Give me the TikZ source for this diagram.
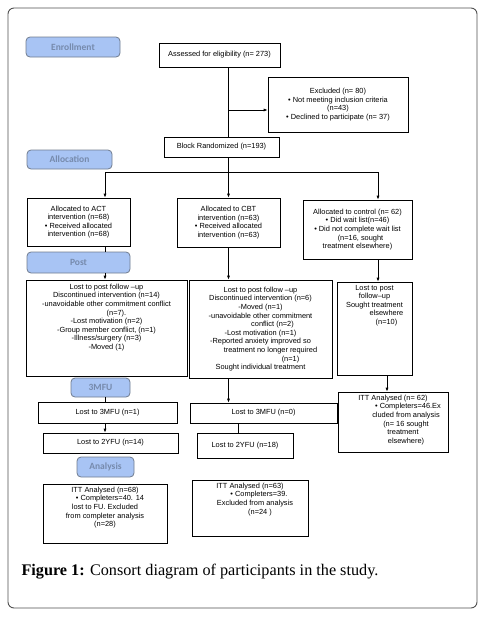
\documentclass[tikz,border=0pt]{standalone}
\usepackage{fontspec}
\setmainfont{Liberation Serif}
\newfontfamily\boxfont{Liberation Sans}
\newfontfamily\stagefont{Carlito}
\usepackage{tikz}
\usetikzlibrary{arrows.meta, positioning}

\definecolor{stagefill}{RGB}{168,196,244}
\definecolor{stageline}{RGB}{112,124,142}
\definecolor{stagetext}{RGB}{118,138,172}
\definecolor{frameline}{RGB}{80,80,80}

\newcommand{\itembul}{\textbullet\ }

\tikzset{
  box/.style={draw, line width=0.7pt, align=center, inner sep=2pt,
    font={\boxfont\fontsize{7.4}{8.6}\selectfont}},
  stage/.style={draw=stageline, fill=stagefill, line width=0.8pt,
    rounded corners=4pt, inner sep=0pt, text=stagetext,
    font={\stagefont\bfseries\fontsize{9.5}{10}\selectfont}},
}

\begin{document}
\begin{tikzpicture}[x=1pt, y=-1pt, >={Latex[length=4pt,width=3pt]}]
    \useasboundingbox (0,0) rectangle (495,625);
    \draw[frameline, line width=0.9pt, rounded corners=6pt] (8,8) rectangle (477,608);

    % stage labels
    \node[stage, minimum width=94pt, minimum height=20pt] (enroll) at (73,47) {Enrollment};
    \node[stage, minimum width=85pt, minimum height=19pt] (alloc) at (69.5,159.5) {Allocation};
    \node[stage, minimum width=103pt, minimum height=21pt] (post) at (78.5,262.5) {Post};
    \node[stage, minimum width=59pt, minimum height=19pt] (mfu) at (100.5,387.5) {3MFU};
    \node[stage, minimum width=57pt, minimum height=20pt] (analysis) at (105.5,467) {Analysis};

    % enrollment
    \node[box, minimum width=121pt, minimum height=24pt] (assess) at (219.5,55)
        {Assessed for eligibility (n= 273)};
    \node[box, minimum width=140pt, minimum height=55pt] (excl) at (338,104.5)
        {Excluded (n= 80)\\ \itembul Not meeting inclusion criteria\\ (n=43)\\
         \itembul Declined to participate (n= 37)};
    \node[box, minimum width=115pt, minimum height=20pt] (rand) at (221.5,147)
        {Block Randomized (n=193)};

    % allocation
    \node[box, minimum width=103pt, minimum height=48pt] (act) at (78.5,222)
        {Allocated to ACT\\ intervention (n=68)\\ \itembul Received allocated\\ intervention (n=68)};
    \node[box, minimum width=103pt, minimum height=49pt] (cbt) at (228.5,222.5)
        {Allocated to CBT\\ intervention (n=63)\\ \itembul Received allocated\\ intervention (n=63)};
    \node[box, minimum width=109pt, minimum height=59pt] (ctrl) at (357.5,229.5)
        {Allocated to control (n= 62)\\ \itembul Did wait list(n=46)\\ \itembul Did not complete wait list\\
         \hspace*{6pt}(n=16, sought\\ treatment elsewhere)};

    % post
    \node[box, minimum width=161pt, minimum height=96pt] (actlost) at (106.5,328)
        {\parbox[t][88pt][t]{155pt}{\centering Lost to post follow –up\\ Discontinued intervention (n=14)\\
         -unavoidable other commitment conflict\\ \hspace*{20pt}(n=7).\\ -Lost motivation (n=2)\\
         -Group member conflict, (n=1)\\ -Illness/surgery (n=3)\\ -Moved (1)}};
    \node[box, minimum width=143pt, minimum height=98pt] (cbtlost) at (260.5,329)
        {Lost to post follow –up\\ Discontinued intervention (n=6)\\ -Moved (n=1)\\
         -unavoidable other commitment\\ \hspace*{24pt}conflict (n=2)\\ -Lost motivation (n=1)\\
         -Reported anxiety improved so\\ \hspace*{20pt}treatment no longer required\\
         \hspace*{60pt}(n=1)\\ Sought individual treatment};
    \node[box, minimum width=75pt, minimum height=93pt] (ctrllost) at (374.5,328.5)
        {\parbox[t][87pt][t]{71pt}{\centering Lost to post\\ follow–up\\ Sought treatment\\
         \hspace*{24pt}elsewhere\\ \hspace*{24pt}(n=10)}};

    % follow-up
    \node[box, minimum width=139pt, minimum height=21pt] (act3) at (107.5,412.5) {Lost to 3MFU (n=1)};
    \node[box, minimum width=135pt, minimum height=20pt] (act2) at (110.5,443) {Lost to 2YFU (n=14)};
    \node[box, minimum width=147pt, minimum height=20pt] (cbt3) at (263.5,413) {Lost to 3MFU (n=0)};
    \node[box, minimum width=96pt, minimum height=25pt] (cbt2) at (245,445.5) {Lost to 2YFU (n=18)};

    % analysis
    \node[box, minimum width=124pt, minimum height=59pt] (actitt) at (105,513.5)
        {\parbox[t][53pt][t]{120pt}{\centering ITT Analysed (n=68)\\ \hspace*{10pt}\itembul Completers=40. 14\\
         lost to FU. Excluded\\ from completer analysis\\ (n=28)}};
    \node[box, minimum width=116pt, minimum height=56pt] (cbtitt) at (250,508)
        {\parbox[t][50pt][t]{112pt}{\centering ITT Analysed (n=63)\\ \hspace*{18pt}\itembul Completers=39.\\
         \hspace*{10pt}Excluded from analysis\\ \hspace*{20pt}(n=24 )}};
    \node[box, minimum width=110pt, minimum height=60pt] (ctrlitt) at (393,422)
        {\parbox[t][54pt][t]{106pt}{\centering ITT Analysed (n= 62)\\ \hspace*{30pt}\itembul Completers=46.Ex\\
         \hspace*{26pt}cluded from analysis\\ \hspace*{26pt}(n= 16 sought\\ \hspace*{20pt}treatment\\
         \hspace*{26pt}elsewhere)}};

    \node[anchor=west, font=\fontsize{16.2}{18}\selectfont] (caption) at (18,572)
        {\textbf{Figure 1:} Consort diagram of participants in the study.};

    % connectors
    \coordinate (exfork) at (228,110);
    \coordinate (splitL) at (105,172);
    \coordinate (splitR) at (378,172);

    \draw[line width=0.7pt] (assess.south -| cbt.north) -- (rand.north -| cbt.north);
    \draw[line width=0.7pt] (splitL) -- (splitR);
    \draw[line width=0.7pt] (act.south -| splitL) -- (post.north -| splitL);
    \draw[line width=0.7pt] (mfu.south -| splitL) -- (act3.north -| splitL);
    \draw[line width=0.5pt] ([xshift=-7pt]cbt2.north |- cbt3.south) -- ([xshift=-7pt]cbt2.north);

    \path[->, line width=0.7pt]
    (exfork) edge (exfork -| excl.west)
    (rand.south -| cbt.north) edge (cbt.north)
    (splitL) edge (splitL |- act.north)
    (splitR) edge (splitR |- ctrl.north)
    (post.south -| splitL) edge (actlost.north -| splitL)
    (cbt.south) edge (cbt.south |- cbtlost.north)
    (ctrl.south -| splitR) edge (ctrllost.north -| splitR)
    (act3.south -| splitL) edge (act2.north -| splitL)
    (cbtlost.south -| cbt.south) edge (cbt3.north -| cbt.south)
    ([xshift=-6pt]ctrlitt.north |- ctrllost.south) edge ([xshift=-6pt]ctrlitt.north);
\end{tikzpicture}
\end{document}
